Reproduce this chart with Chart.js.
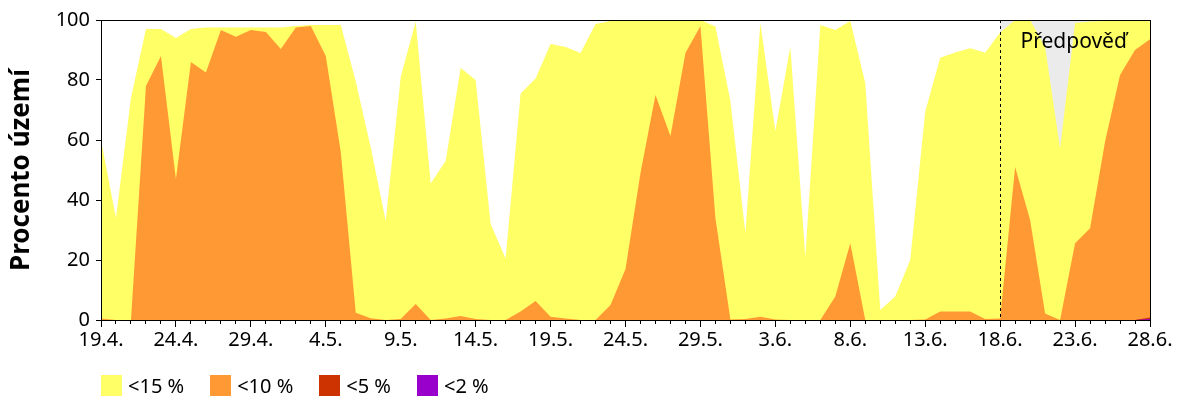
<!DOCTYPE html>
<html>
<head>
<meta charset="utf-8">
<script src="https://cdn.jsdelivr.net/npm/chart.js@4/dist/chart.umd.min.js"></script>
<style>
  body { margin: 0; background: #fff; font-family: "Noto Sans", sans-serif; }
  #wrap { position: relative; width: 1200px; height: 400px; }
  #legend { position: absolute; left: 101px; top: 372px; display: flex; font-size: 20px; color: #000; }
  #legend .item { display: flex; align-items: center; margin-right: 26px; }
  #legend .box { width: 21px; height: 21px; margin-right: 6px; }
</style>
</head>
<body>
<div id="wrap">
  <canvas id="chart"></canvas>
  <div id="legend"></div>
</div>
<script>
// one label per day, 19.4. - 28.6.
const days = [
    "19.4.", "20.4.", "21.4.", "22.4.", "23.4.", "24.4.", "25.4.", "26.4.", "27.4.", "28.4.", "29.4.", "30.4.",
    "1.5.", "2.5.", "3.5.", "4.5.", "5.5.", "6.5.", "7.5.", "8.5.", "9.5.", "10.5.", "11.5.", "12.5.", "13.5.",
    "14.5.", "15.5.", "16.5.", "17.5.", "18.5.", "19.5.", "20.5.", "21.5.", "22.5.", "23.5.", "24.5.", "25.5.",
    "26.5.", "27.5.", "28.5.", "29.5.", "30.5.", "31.5.",
    "1.6.", "2.6.", "3.6.", "4.6.", "5.6.", "6.6.", "7.6.", "8.6.", "9.6.", "10.6.", "11.6.", "12.6.", "13.6.",
    "14.6.", "15.6.", "16.6.", "17.6.", "18.6.", "19.6.", "20.6.", "21.6.", "22.6.", "23.6.", "24.6.", "25.6.",
    "26.6.", "27.6.", "28.6."
];
const forecastFrom = "18.6.";
const forecastText = "Předpověď";

const less15 = [
    60, 34, 74, 97, 97, 94, 97, 97.5, 97.5, 97.5, 97.5, 97.5, 97.5, 98, 98.3, 98.3, 98.3, 79.5, 57.5, 33,
    81, 99.5, 45.5, 53, 84, 80, 32, 20.5, 75.5, 80.5, 92, 91, 89, 98.7, 99.7, 100, 100, 100, 100, 100,
    100, 97.8, 73, 29, 99, 63, 91, 21, 98.3, 96.7, 99.7, 79, 3.3, 7.8, 20, 69.4, 87.4, 89.2, 90.6, 89.1,
    95.8, 100, 100, 91, 57.2, 99, 99.5, 99.7, 100, 100, 100
];
const less10 = [
    0.5, 0, 0, 78, 88, 47, 86, 82.5, 96.7, 94.4, 96.7, 96, 90.3, 97.5, 98, 88, 56, 2.4, 0.6, 0,
    0.3, 5.3, 0, 0.5, 1.3, 0.3, 0, 0, 2.8, 6.3, 1.1, 0.5, 0, 0, 5, 17, 49, 75, 61.3, 89,
    98, 34, 0.2, 0.3, 1.1, 0.2, 0, 0, 0, 7.8, 25.6, 0, 0, 0, 0, 0.2, 2.8, 2.8, 2.8, 0.3,
    0.5, 51, 33.3, 2.2, 0, 25.6, 30.6, 59.4, 81.7, 90, 93.6
];
const less5 = [
    0, 0, 0, 0, 0, 0, 0, 0, 0, 0, 0, 0, 0, 0, 0, 0, 0, 0, 0, 0,
    0, 0, 0, 0, 0, 0, 0, 0, 0, 0, 0, 0, 0, 0, 0, 0, 0, 0, 0, 0,
    0, 0, 0, 0, 0, 0, 0, 0, 0, 0, 0, 0, 0, 0, 0, 0, 0, 0, 0, 0,
    0, 0, 0, 0, 0, 0, 0, 0, 0, 0, 0.8
];
const less2 = [
    0, 0, 0, 0, 0, 0, 0, 0, 0, 0, 0, 0, 0, 0, 0, 0, 0, 0, 0, 0,
    0, 0, 0, 0, 0, 0, 0, 0, 0, 0, 0, 0, 0, 0, 0, 0, 0, 0, 0, 0,
    0, 0, 0, 0, 0, 0, 0, 0, 0, 0, 0, 0, 0, 0, 0, 0, 0, 0, 0, 0,
    0, 0, 0, 0, 0, 0, 0, 0, 0, 0, 0.3
];

const series = [
    { label: "<15 %", data: less15, color: "#ffff66" },
    { label: "<10 %", data: less10, color: "#ff9933" },
    { label: "<5 %", data: less5, color: "#cc3300" },
    { label: "<2 %", data: less2, color: "#9900cc" }
];

const FONT = "'Noto Sans', sans-serif";

// grey background + dashed line for the forecast part, frame round the plot
const forecastPlugin = {
    id: "forecast",
    beforeDatasetsDraw(chart) {
        const { ctx, chartArea: a, scales } = chart;
        const x = scales.x.getPixelForValue(days.indexOf(forecastFrom));
        ctx.save();
        ctx.fillStyle = "#ebebeb";
        ctx.fillRect(x, a.top, a.right - x, a.bottom - a.top);
        ctx.restore();
    },
    afterDatasetsDraw(chart) {
        const { ctx, chartArea: a, scales } = chart;
        const x = Math.round(scales.x.getPixelForValue(days.indexOf(forecastFrom))) + 0.5;
        ctx.save();
        ctx.strokeStyle = "#000";
        ctx.lineWidth = 1;
        ctx.setLineDash([3, 3]);
        ctx.beginPath();
        ctx.moveTo(x, a.top);
        ctx.lineTo(x, a.bottom);
        ctx.stroke();
        ctx.setLineDash([]);
        ctx.strokeRect(Math.round(a.left) + 0.5, Math.round(a.top) + 0.5,
            Math.round(a.right - a.left), Math.round(a.bottom - a.top));
        ctx.fillStyle = "#000";
        ctx.font = "21px " + FONT;
        ctx.textBaseline = "alphabetic";
        ctx.fillText(forecastText, x + 20, a.top + 28);
        ctx.restore();
    }
};

const ctx = document.getElementById("chart").getContext("2d");
new Chart(ctx, {
    type: "line",
    data: {
        labels: days,
        datasets: series.map((s, i) => ({
            label: s.label,
            data: s.data,
            backgroundColor: s.color,
            borderWidth: 0,
            pointRadius: 0,
            fill: "origin",
            tension: 0,
            order: series.length - i
        }))
    },
    options: {
        responsive: true,
        maintainAspectRatio: false,
        animation: false,
        layout: { padding: { top: 20, right: 50, left: 0, bottom: 0 } },
        plugins: { legend: { display: false }, tooltip: { enabled: false } },
        scales: {
            x: {
                type: "category",
                position: "bottom",
                weight: 1,
                ticks: {
                    autoSkip: false,
                    maxRotation: 0,
                    padding: 1,
                    color: "#000",
                    font: { family: FONT, size: 20 },
                    callback: (v, i) => i % 5 === 0 ? days[i] : ""
                },
                grid: {
                    drawOnChartArea: false,
                    tickLength: 7,
                    tickColor: c => c.index % 5 === 0 ? "#000" : "rgba(0,0,0,0)"
                },
                border: { color: "#000" },
                afterFit: s => { s.height = 80; }
            },
            x2: {
                type: "category",
                position: "bottom",
                weight: 0,
                ticks: { display: false, autoSkip: false },
                grid: { drawOnChartArea: false, tickLength: 4, tickColor: "#000" },
                border: { display: false },
                afterFit: s => { s.height = 0; }
            },
            y: {
                min: 0,
                max: 100,
                ticks: { stepSize: 20, padding: 6, color: "#000", font: { family: FONT, size: 20 } },
                grid: { drawOnChartArea: false, tickLength: 5, tickColor: "#000" },
                border: { color: "#000" },
                title: {
                    display: true,
                    text: "Procento území",
                    color: "#000",
                    font: { family: FONT, size: 26, weight: "bold" },
                    padding: { top: 6, bottom: 0 }
                },
                afterFit: s => { s.width = 101; }
            }
        }
    },
    plugins: [forecastPlugin]
});

// legend below the plot
const legend = document.getElementById("legend");
series.forEach(s => {
    const item = document.createElement("div");
    item.className = "item";
    const box = document.createElement("span");
    box.className = "box";
    box.style.background = s.color;
    const txt = document.createElement("span");
    txt.textContent = s.label;
    item.appendChild(box);
    item.appendChild(txt);
    legend.appendChild(item);
});
</script>
</body>
</html>
